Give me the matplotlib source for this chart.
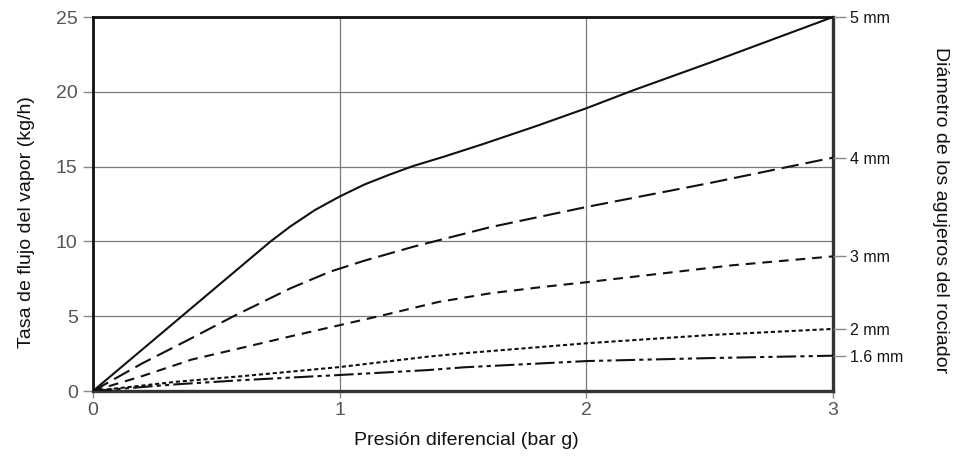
import matplotlib
matplotlib.use("Agg")
import matplotlib.pyplot as plt

plt.rcParams["lines.scale_dashes"] = False
plt.rcParams["font.family"] = ["Liberation Sans", "DejaVu Sans"]

# Steam flow (kg/h) against differential pressure (bar g), per sparger hole diameter
p_5mm = [0.0, 0.36, 0.72, 0.80, 0.90, 1.0, 1.10, 1.20, 1.30, 1.42, 1.58, 1.79, 2.0, 2.19, 2.51, 3.0]
q_5mm = [0.0, 5.0, 10.0, 11.0, 12.1, 13.0, 13.8, 14.45, 15.05, 15.65, 16.5, 17.67, 18.9, 20.1, 22.0, 25.0]

p_4mm = [0.0, 0.20, 0.39, 0.57, 0.80, 0.96, 1.10, 1.30, 1.61, 2.0, 2.5, 3.0]
q_4mm = [0.0, 1.85, 3.45, 5.0, 6.86, 7.97, 8.71, 9.65, 10.95, 12.3, 13.9, 15.6]

p_3mm = [0.0, 0.20, 0.40, 0.62, 0.80, 1.0, 1.18, 1.40, 1.61, 1.83, 2.0, 2.59, 3.0]
q_3mm = [0.0, 1.0, 2.1, 2.95, 3.65, 4.4, 5.08, 5.95, 6.53, 6.97, 7.27, 8.4, 9.0]

p_2mm = [0.0, 0.34, 0.61, 1.0, 1.36, 1.5, 2.0, 2.5, 3.0]
q_2mm = [0.0, 0.62, 1.0, 1.6, 2.3, 2.52, 3.19, 3.74, 4.15]

p_16mm = [0.0, 0.34, 0.61, 1.0, 1.36, 1.5, 2.0, 2.5, 3.0]
q_16mm = [0.0, 0.45, 0.73, 1.07, 1.4, 1.58, 2.0, 2.2, 2.36]

hole_labels = ["5 mm", "4 mm", "3 mm", "2 mm", "1.6 mm"]
x_ticks = [0, 1, 2, 3]
y_ticks = [0, 5, 10, 15, 20, 25]

fig = plt.figure(figsize=(9.59, 4.61), dpi=100)
ax = fig.add_axes([93 / 959, 70 / 461, 740 / 959, 374 / 461])

ink = "#111111"
lw = 1.5
ax.plot(p_5mm, q_5mm, color=ink, lw=lw, solid_joinstyle="round", zorder=3)
ax.plot(p_4mm, q_4mm, color=ink, lw=lw, linestyle=(0, (12.5, 5)), zorder=3)
ax.plot(p_3mm, q_3mm, color=ink, lw=lw, linestyle=(0, (7, 5)), zorder=3)
ax.plot(p_2mm, q_2mm, color=ink, lw=lw, linestyle=(0, (3, 2)), zorder=3)
ax.plot(p_16mm, q_16mm, color=ink, lw=lw,
        linestyle=(0, (14, 3, 3, 3, 3, 3)), zorder=3)

ax.set_xlim(0, 3)
ax.set_ylim(0, 25)
ax.set_xticks(x_ticks)
ax.set_yticks(y_ticks)
ax.grid(True, color="#7a7a7a", lw=0.9)
ax.set_axisbelow(True)

tick_font = {"size": 14}
ax.set_xticklabels([str(v) for v in x_ticks], fontdict=tick_font)
ax.set_yticklabels([str(v) for v in y_ticks], fontdict=tick_font)
ax.tick_params(axis="y", length=7, width=1, color="#8a8a8a", labelcolor="#555555", pad=4)
ax.tick_params(axis="x", length=5, width=1, color="#8a8a8a", labelcolor="#555555", pad=3)

for side, col, w in [("left", "#111111", 2.0), ("top", "#111111", 2.0),
                     ("bottom", "#333333", 2.4), ("right", "#333333", 2.4)]:
    ax.spines[side].set_color(col)
    ax.spines[side].set_linewidth(w)

# Hole diameter labels at the end of each curve
ends = [q_5mm[-1], q_4mm[-1], q_3mm[-1], q_2mm[-1], q_16mm[-1]]
sec = ax.twinx()
sec.set_ylim(ax.get_ylim())
sec.set_yticks(ends)
sec.set_yticklabels(hole_labels, fontsize=11.5, color="#111111")
sec.tick_params(axis="y", length=9, width=1, color="#8a8a8a", pad=3)
for s in sec.spines.values():
    s.set_visible(False)

fig.text(466 / 959, 1 - 440 / 461, "Presión diferencial (bar g)",
         ha="center", va="center", fontsize=14, color="#111111")
fig.text(27 / 959, 1 - 222 / 461, "Tasa de flujo del vapor (kg/h)",
         ha="center", va="center", rotation=90, fontsize=14, color="#111111")
fig.text(940 / 959, 1 - 210 / 461, "Diámetro de los agujeros del rociador",
         ha="center", va="center", rotation=270, fontsize=14, color="#111111")

fig.savefig("out.png", dpi=100, facecolor="white")
